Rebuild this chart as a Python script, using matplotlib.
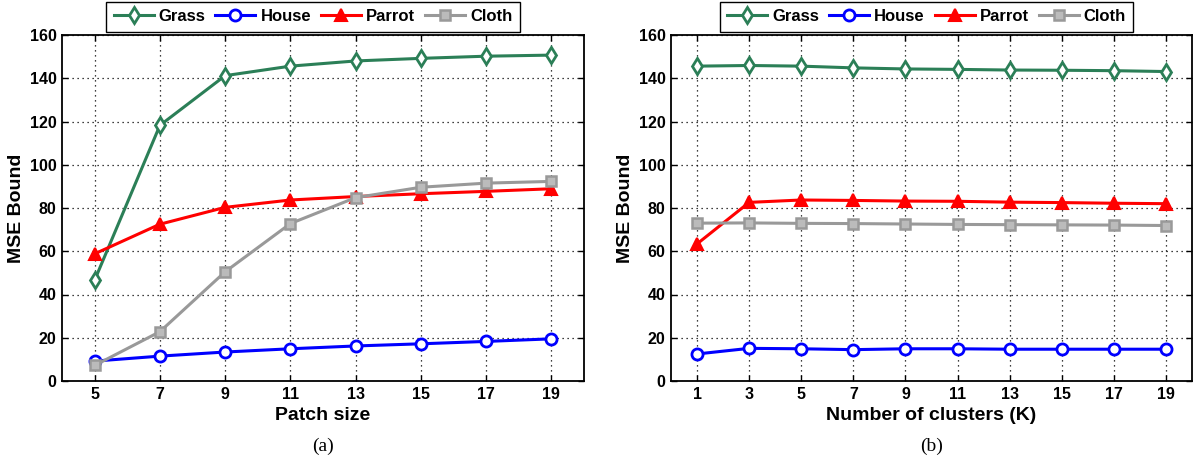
import matplotlib
matplotlib.use("Agg")
import matplotlib.pyplot as plt

# ================== DATA ==================
patch_sizes = [5, 7, 9, 11, 13, 15, 17, 19]
grass_a = [46.6, 118.2, 141.2, 145.6, 148.0, 149.2, 150.2, 150.7]
house_a = [9.2, 11.5, 13.4, 14.9, 16.2, 17.2, 18.3, 19.5]
parrot_a = [58.8, 72.5, 80.3, 83.7, 85.3, 86.6, 87.7, 88.9]
cloth_a = [7.2, 22.8, 50.5, 72.8, 84.8, 89.6, 91.5, 92.3]

clusters = [1, 3, 5, 7, 9, 11, 13, 15, 17, 19]
grass_b = [145.6, 145.9, 145.6, 144.8, 144.3, 144.1, 143.8, 143.7, 143.5, 143.1]
house_b = [12.5, 15.1, 14.9, 14.5, 14.9, 14.9, 14.7, 14.7, 14.7, 14.7]
parrot_b = [63.4, 82.6, 83.7, 83.5, 83.2, 83.1, 82.7, 82.5, 82.2, 82.0]
cloth_b = [73.0, 73.1, 72.9, 72.8, 72.6, 72.4, 72.3, 72.2, 72.1, 71.9]

y_ticks = [0, 20, 40, 60, 80, 100, 120, 140, 160]

# ================== STYLE ==================
GREEN = "#2b7f57"
BLUE = "#0000ff"
RED = "#ff0000"
GRAY = "#999999"

plt.rcParams["font.family"] = ["Liberation Sans", "DejaVu Sans"]
plt.rcParams["font.weight"] = "bold"

W, H = 1195, 463
fig = plt.figure(figsize=(W / 100, H / 100), dpi=100)


def draw_panel(rect, x, grass, house, parrot, cloth, xlim, xlabel, tag, leg_cx):
    ax = fig.add_axes(rect)
    ax.plot(x, grass, color=GREEN, lw=2.2, marker="d", ms=8, mfc="white",
            mec=GREEN, mew=2, label="Grass")
    ax.plot(x, house, color=BLUE, lw=2.2, marker="o", ms=8, mfc="white",
            mec=BLUE, mew=2, label="House")
    ax.plot(x, parrot, color=RED, lw=2.2, marker="^", ms=9, mfc=RED,
            mec=RED, mew=1.5, label="Parrot")
    ax.plot(x, cloth, color=GRAY, lw=2.2, marker="s", ms=7, mfc="#bbbbbb",
            mec=GRAY, mew=1.8, label="Cloth")

    ax.set_xlim(*xlim)
    ax.set_ylim(0, 160)
    ax.set_xticks(x)
    ax.set_yticks(y_ticks)
    ax.grid(True, color="black", linestyle=(0, (1, 3)), linewidth=0.9)
    ax.tick_params(direction="in", length=4, width=1, labelsize=11.5, pad=4,
                   top=True, right=True)
    for s in ax.spines.values():
        s.set_linewidth(1.3)
    ax.set_xlabel(xlabel, fontsize=14, fontweight="bold", labelpad=4)
    ax.set_ylabel("MSE Bound", fontsize=14, fontweight="bold", labelpad=3)

    leg = ax.legend(loc="center", bbox_to_anchor=(leg_cx / W, 1 - 16.5 / H),
                    bbox_transform=fig.transFigure, ncol=4, fontsize=12,
                    frameon=True, fancybox=False, framealpha=1,
                    edgecolor="black", handlelength=2.4, handletextpad=0.3,
                    columnspacing=0.6, borderpad=0.45, borderaxespad=0)
    leg.get_frame().set_linewidth(1.0)

    cx = rect[0] + rect[2] / 2
    fig.text(cx, 1 - 446 / H, tag, ha="center", va="center", fontsize=14,
             family="Liberation Serif", fontweight="normal")
    return ax


ax_y = (H - 381) / H
ax_h = 346 / H
draw_panel([62 / W, ax_y, 522 / W, ax_h], patch_sizes, grass_a, house_a,
           parrot_a, cloth_a, (4, 20), "Patch size", "(a)", 313)
draw_panel([671 / W, ax_y, 521 / W, ax_h], clusters, grass_b, house_b,
           parrot_b, cloth_b, (0, 20), "Number of clusters (K)", "(b)", 926.5)

fig.savefig("out.png", dpi=100)
